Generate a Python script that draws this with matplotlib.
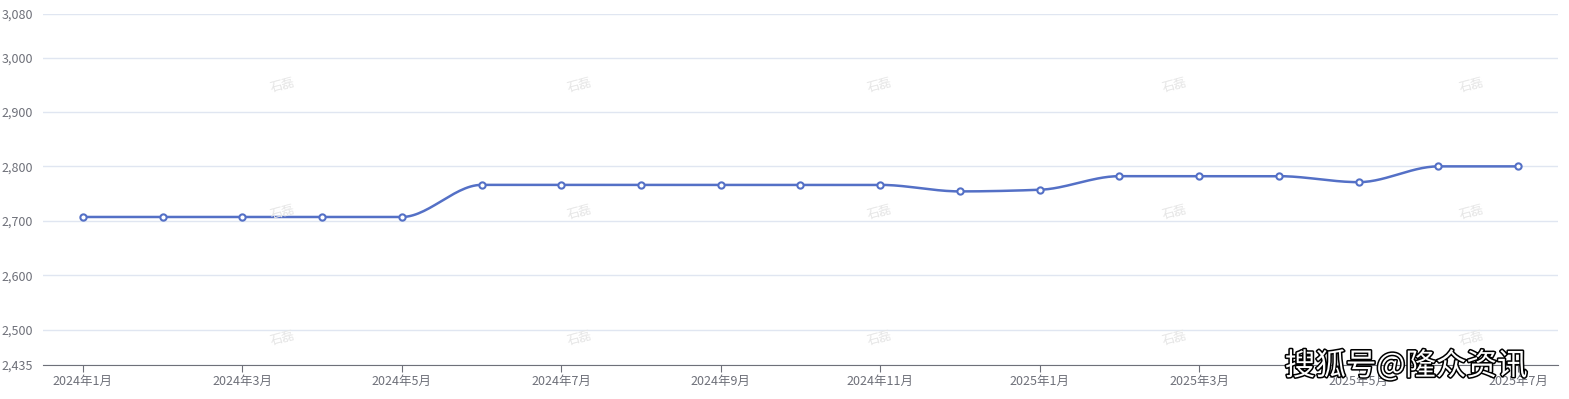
import matplotlib
matplotlib.use("Agg")
import matplotlib.pyplot as plt
import matplotlib.patheffects as pe
import numpy as np

plt.rcParams["font.family"] = ["Noto Sans CJK SC", "DejaVu Sans"]

months = [
    "2024年1月", "2024年2月", "2024年3月", "2024年4月", "2024年5月",
    "2024年6月", "2024年7月", "2024年8月", "2024年9月", "2024年10月",
    "2024年11月", "2024年12月", "2025年1月", "2025年2月", "2025年3月",
    "2025年4月", "2025年5月", "2025年6月", "2025年7月",
]
prices = [
    2707, 2707, 2707, 2707, 2707,
    2766, 2766, 2766, 2766, 2766,
    2766, 2754, 2757, 2782, 2782,
    2782, 2771, 2800, 2800,
]
y_ticks = [2435, 2500, 2600, 2700, 2800, 2900, 3000, 3080]

LINE = "#5470C6"
GRID = "#E0E6F1"
TEXT = "#6E7079"


def pchip(x, y, n=30):
    # monotone cubic, keeps flat stretches flat
    x = np.asarray(x, float)
    y = np.asarray(y, float)
    h = np.diff(x)
    d = np.diff(y) / h
    m = np.zeros_like(y)
    for i in range(1, len(y) - 1):
        if d[i - 1] * d[i] > 0:
            m[i] = 2 / (1 / d[i - 1] + 1 / d[i])
    xs, ys = [], []
    for i in range(len(h)):
        t = np.linspace(0, 1, n)
        h00 = 2 * t**3 - 3 * t**2 + 1
        h10 = t**3 - 2 * t**2 + t
        h01 = -2 * t**3 + 3 * t**2
        h11 = t**3 - t**2
        xs.append(x[i] + t * h[i])
        ys.append(h00 * y[i] + h10 * h[i] * m[i] + h01 * y[i + 1] + h11 * h[i] * m[i + 1])
    return np.concatenate(xs), np.concatenate(ys)


fig = plt.figure(figsize=(15.69, 3.99), dpi=100)
ax = fig.add_axes([43 / 1569, 34 / 399, 1515 / 1569, 351 / 399])

idx = np.arange(len(months))
sx, sy = pchip(idx, prices)
ax.plot(sx, sy, color=LINE, lw=1.8, zorder=3)
ax.plot(idx, prices, ls="none", marker="o", ms=4.5, mfc="white",
        mec=LINE, mew=1.5, zorder=4)

ax.set_xlim(-0.5, len(months) - 0.5)
ax.set_ylim(y_ticks[0], y_ticks[-1])
ax.set_yticks(y_ticks)
ax.set_yticklabels([f"{v:,}" for v in y_ticks])
ax.set_xticks(idx[::2])
ax.set_xticklabels(months[::2])
ax.tick_params(axis="y", length=0, pad=7, labelsize=9, labelcolor=TEXT)
ax.tick_params(axis="x", length=5, color=TEXT, pad=2, labelsize=9,
               labelcolor=TEXT)
ax.grid(axis="y", color=GRID, lw=1)
ax.set_axisbelow(True)
for s in ["top", "right", "left"]:
    ax.spines[s].set_visible(False)
ax.spines["bottom"].set_color(TEXT)

# faint watermarks
for fx in [283, 580, 880, 1175, 1472]:
    for fy in [85, 212, 338]:
        fig.text(fx / 1569, 1 - fy / 399, "石磊", color="#E6E6E6",
                 fontsize=9, rotation=15, ha="center", va="center", zorder=1)

fig.text(1406 / 1569, 1 - 366 / 399, "搜狐号@隆众资讯", fontsize=22,
         color="white", ha="center", va="center",
         path_effects=[pe.withStroke(linewidth=2.2, foreground="black")])

fig.savefig("out.png", dpi=100)
